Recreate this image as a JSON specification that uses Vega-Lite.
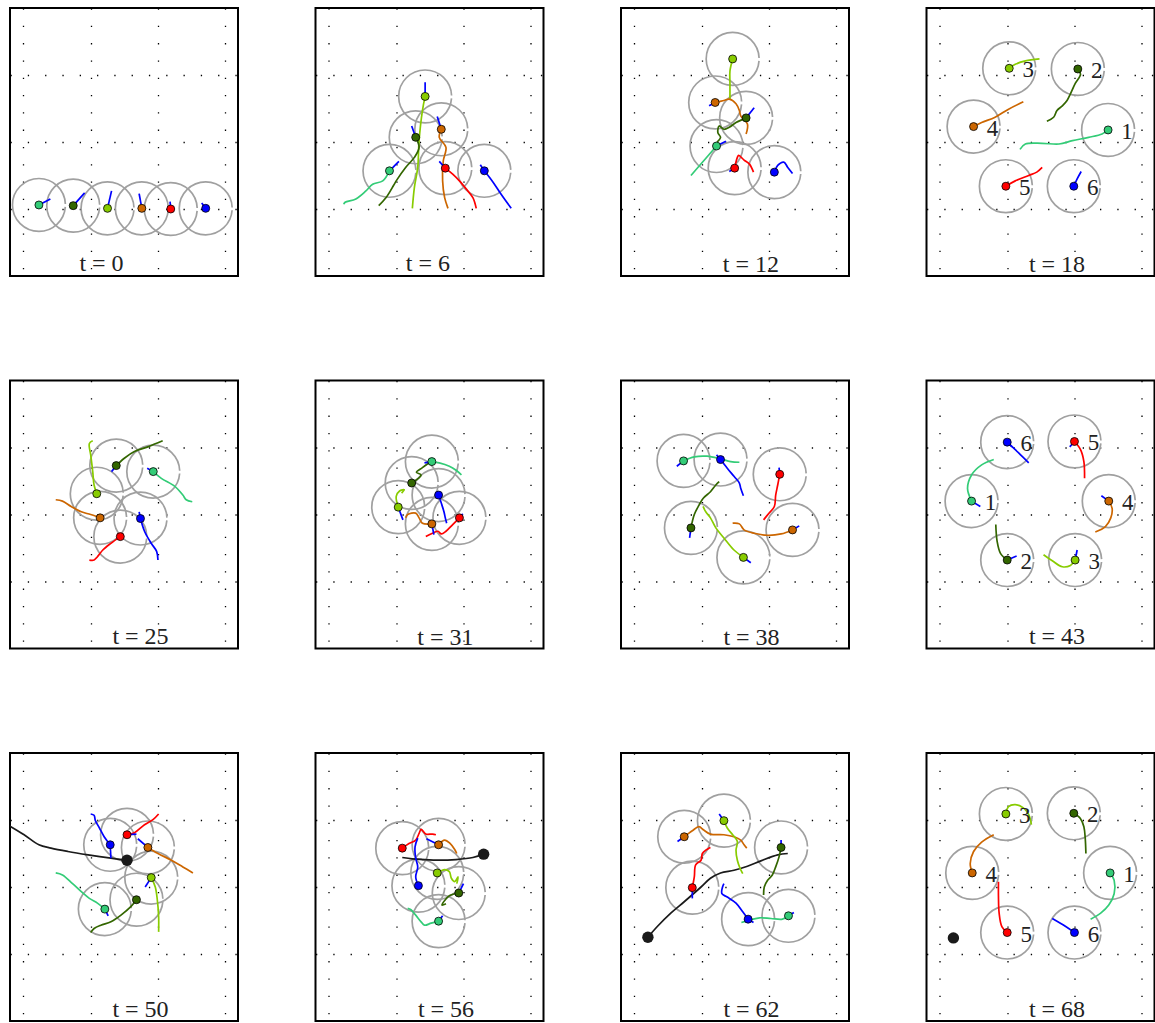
{
"$schema": "https://vega.github.io/schema/vega-lite/v6.json",
"padding": {"left": 8, "top": 6, "right": 0, "bottom": 0},
"background": "white",
"data": {"values": [
{"p":0,"k":"r","id":"1","x":0.23,"y":1.06,"hx":0.40,"hy":1.15},
{"p":0,"k":"r","id":"2","x":0.74,"y":1.05,"hx":0.91,"hy":1.24},
{"p":0,"k":"r","id":"3","x":1.25,"y":1.01,"hx":1.31,"hy":1.27},
{"p":0,"k":"r","id":"4","x":1.76,"y":1.01,"hx":1.72,"hy":1.23},
{"p":0,"k":"r","id":"5","x":2.19,"y":1.00,"hx":2.18,"hy":1.11},
{"p":0,"k":"r","id":"6","x":2.71,"y":1.01,"hx":2.65,"hy":1.09},
{"p":0,"k":"ttl","x":1.16,"y":0.18,"txt":"t = 0"},

{"p":6,"k":"r","id":"1","x":0.90,"y":1.57,"hx":1.04,"hy":1.71},
{"p":6,"k":"r","id":"2","x":1.29,"y":2.07,"hx":1.23,"hy":2.24},
{"p":6,"k":"r","id":"3","x":1.43,"y":2.68,"hx":1.43,"hy":2.89},
{"p":6,"k":"r","id":"4","x":1.67,"y":2.19,"hx":1.61,"hy":2.38},
{"p":6,"k":"r","id":"5","x":1.73,"y":1.61,"hx":1.64,"hy":1.71},
{"p":6,"k":"r","id":"6","x":2.31,"y":1.57,"hx":2.25,"hy":1.66},
{"p":6,"k":"t","id":"3","xs":[1.43,1.39,1.34,1.32,1.27,1.24],"ys":[2.68,2.47,2.02,1.62,1.32,1.01],"os":[0,1,2,3,4,5]},
{"p":6,"k":"t","id":"4","xs":[1.67,1.64,1.74,1.70,1.69,1.72,1.77],"ys":[2.19,2.07,1.92,1.72,1.42,1.17,1.01],"os":[0,1,2,3,4,5,6]},
{"p":6,"k":"t","id":"2","xs":[1.29,1.34,1.27,1.14,1.00,0.96,0.85,0.74],"ys":[2.07,1.92,1.77,1.62,1.42,1.35,1.17,1.05],"os":[0,1,2,3,4,5,6,7]},
{"p":6,"k":"t","id":"1","xs":[0.90,0.80,0.65,0.55,0.40,0.24,0.22],"ys":[1.57,1.42,1.37,1.27,1.15,1.10,1.07],"os":[0,1,2,3,4,5,6]},
{"p":6,"k":"t","id":"5","xs":[1.73,1.84,1.94,2.04,2.14,2.19],"ys":[1.61,1.52,1.42,1.30,1.17,1.01],"os":[0,1,2,3,4,5]},
{"p":6,"k":"t","id":"6","xs":[2.31,2.44,2.56,2.71],"ys":[1.57,1.40,1.22,1.01],"os":[0,1,2,3]},
{"p":6,"k":"ttl","x":1.47,"y":0.18,"txt":"t = 6"},

{"p":12,"k":"r","id":"1","x":1.22,"y":1.94,"hx":1.36,"hy":2.01},
{"p":12,"k":"r","id":"2","x":1.66,"y":2.36,"hx":1.78,"hy":2.51},
{"p":12,"k":"r","id":"3","x":1.46,"y":3.24},
{"p":12,"k":"r","id":"4","x":1.20,"y":2.59,"hx":1.11,"hy":2.54},
{"p":12,"k":"r","id":"5","x":1.49,"y":1.61,"hx":1.41,"hy":1.56},
{"p":12,"k":"r","id":"6","x":2.08,"y":1.55},
{"p":12,"k":"t","id":"3","xs":[1.46,1.42,1.42,1.42],"ys":[3.24,3.06,2.87,2.64],"os":[0,1,2,3]},
{"p":12,"k":"t","id":"4","xs":[1.20,1.33,1.41,1.51,1.56,1.58,1.68,1.66],"ys":[2.59,2.62,2.64,2.57,2.47,2.39,2.27,2.12],"os":[0,1,2,3,4,5,6,7]},
{"p":12,"k":"t","id":"2","xs":[1.66,1.51,1.41,1.33,1.26,1.24,1.28,1.23],"ys":[2.36,2.29,2.22,2.19,2.24,2.14,2.07,2.00],"os":[0,1,2,3,4,5,6,7]},
{"p":12,"k":"t","id":"1","xs":[1.22,1.03,0.84],"ys":[1.94,1.72,1.50],"os":[0,1,2]},
{"p":12,"k":"t","id":"5","xs":[1.49,1.53,1.55,1.63,1.71,1.77],"ys":[1.61,1.77,1.80,1.73,1.67,1.55],"os":[0,1,2,3,4,5]},
{"p":12,"k":"t","id":"6","xs":[2.08,2.13,2.22,2.28,2.35],"ys":[1.55,1.65,1.70,1.62,1.53],"os":[0,1,2,3,4]},
{"p":12,"k":"ttl","x":1.73,"y":0.16,"txt":"t = 12"},

{"p":18,"k":"r","id":"1","x":2.50,"y":2.18,"lab":"1"},
{"p":18,"k":"r","id":"2","x":2.05,"y":3.09,"lab":"2"},
{"p":18,"k":"r","id":"3","x":1.03,"y":3.10,"lab":"3"},
{"p":18,"k":"r","id":"4","x":0.50,"y":2.23,"lab":"4"},
{"p":18,"k":"r","id":"5","x":0.98,"y":1.34,"lab":"5"},
{"p":18,"k":"r","id":"6","x":1.99,"y":1.34,"lab":"6"},
{"p":18,"k":"t","id":"3","xs":[1.03,1.12,1.27,1.48],"ys":[3.10,3.16,3.21,3.24],"os":[0,1,2,3]},
{"p":18,"k":"t","id":"2","xs":[2.05,2.09,2.01,1.94,1.89,1.82,1.74,1.69,1.59],"ys":[3.09,3.01,2.87,2.72,2.62,2.54,2.47,2.37,2.31],"os":[0,1,2,3,4,5,6,7,8]},
{"p":18,"k":"t","id":"4","xs":[0.50,0.62,0.82,1.02,1.24],"ys":[2.23,2.29,2.37,2.49,2.60],"os":[0,1,2,3,4]},
{"p":18,"k":"t","id":"1","xs":[2.50,2.41,2.21,1.97,1.77,1.52,1.27,1.19],"ys":[2.18,2.12,2.07,2.02,1.97,1.98,1.97,1.89],"os":[0,1,2,3,4,5,6,7]},
{"p":18,"k":"t","id":"5","xs":[0.98,1.12,1.32,1.44,1.52],"ys":[1.34,1.42,1.50,1.55,1.62],"os":[0,1,2,3,4]},
{"p":18,"k":"t","id":"6","xs":[1.99,2.04,2.10],"ys":[1.34,1.45,1.56],"os":[0,1,2]},
{"p":18,"k":"ttl","x":1.74,"y":0.16,"txt":"t = 18"},

{"p":25,"k":"r","id":"1","x":1.93,"y":2.64,"hx":1.84,"hy":2.69},
{"p":25,"k":"r","id":"2","x":1.38,"y":2.73,"hx":1.31,"hy":2.64},
{"p":25,"k":"r","id":"3","x":1.09,"y":2.31},
{"p":25,"k":"r","id":"4","x":1.14,"y":1.95,"hx":1.19,"hy":1.99},
{"p":25,"k":"r","id":"5","x":1.44,"y":1.67},
{"p":25,"k":"r","id":"6","x":1.74,"y":1.94,"hx":1.72,"hy":2.04},
{"p":25,"k":"t","id":"2","xs":[1.38,1.50,1.65,1.85,2.07],"ys":[2.73,2.84,2.94,3.01,3.10],"os":[0,1,2,3,4]},
{"p":25,"k":"t","id":"1","xs":[1.93,2.05,2.25,2.37,2.42,2.51],"ys":[2.64,2.54,2.42,2.29,2.22,2.19],"os":[0,1,2,3,4,5]},
{"p":25,"k":"t","id":"3","xs":[1.09,1.05,1.03,1.00,0.98,1.03],"ys":[2.31,2.44,2.64,2.89,3.06,3.10],"os":[0,1,2,3,4,5]},
{"p":25,"k":"t","id":"4","xs":[1.14,1.00,0.86,0.71,0.58,0.48],"ys":[1.95,2.00,2.04,2.12,2.20,2.22],"os":[0,1,2,3,4,5]},
{"p":25,"k":"t","id":"6","xs":[1.74,1.80,1.90,1.98,2.00],"ys":[1.94,1.75,1.57,1.45,1.32],"os":[0,1,2,3,4]},
{"p":25,"k":"t","id":"5","xs":[1.44,1.30,1.18,1.10,1.05,0.98],"ys":[1.67,1.57,1.47,1.37,1.32,1.32],"os":[0,1,2,3,4,5]},
{"p":25,"k":"ttl","x":1.74,"y":0.17,"txt":"t = 25"},

{"p":31,"k":"r","id":"1","x":1.53,"y":2.79,"hx":1.42,"hy":2.77},
{"p":31,"k":"r","id":"2","x":1.23,"y":2.47},
{"p":31,"k":"r","id":"3","x":1.03,"y":2.11,"hx":1.10,"hy":1.92},
{"p":31,"k":"r","id":"4","x":1.53,"y":1.86,"hx":1.56,"hy":1.70},
{"p":31,"k":"r","id":"5","x":1.94,"y":1.95,"hx":1.99,"hy":2.01},
{"p":31,"k":"r","id":"6","x":1.63,"y":2.29},
{"p":31,"k":"t","id":"1","xs":[1.53,1.64,1.79,1.89,1.97],"ys":[2.79,2.77,2.72,2.66,2.59],"os":[0,1,2,3,4]},
{"p":31,"k":"t","id":"2","xs":[1.23,1.37,1.30,1.39,1.50],"ys":[2.47,2.59,2.63,2.70,2.78],"os":[0,1,2,3,4]},
{"p":31,"k":"t","id":"3","xs":[1.03,1.00,1.05,1.12,1.08],"ys":[2.11,2.27,2.35,2.37,2.32],"os":[0,1,2,3,4]},
{"p":31,"k":"t","id":"6","xs":[1.63,1.68,1.71,1.73,1.75],"ys":[2.29,2.14,2.04,1.95,1.87],"os":[0,1,2,3,4]},
{"p":31,"k":"t","id":"4","xs":[1.53,1.39,1.34,1.29,1.17,1.14],"ys":[1.86,1.87,1.95,2.02,2.00,1.95],"os":[0,1,2,3,4,5]},
{"p":31,"k":"t","id":"5","xs":[1.94,1.84,1.74,1.67,1.62,1.54,1.44],"ys":[1.95,1.85,1.75,1.71,1.75,1.72,1.67],"os":[0,1,2,3,4,5,6]},
{"p":31,"k":"ttl","x":1.73,"y":0.15,"txt":"t = 31"},

{"p":38,"k":"r","id":"1","x":0.73,"y":2.80,"hx":0.63,"hy":2.72},
{"p":38,"k":"r","id":"2","x":0.84,"y":1.80,"hx":0.82,"hy":1.65},
{"p":38,"k":"r","id":"3","x":1.62,"y":1.36,"hx":1.73,"hy":1.28},
{"p":38,"k":"r","id":"4","x":2.35,"y":1.77,"hx":2.45,"hy":1.83},
{"p":38,"k":"r","id":"5","x":2.16,"y":2.60,"hx":2.15,"hy":2.70},
{"p":38,"k":"r","id":"6","x":1.28,"y":2.82,"hx":1.22,"hy":2.89},
{"p":38,"k":"t","id":"1","xs":[0.73,0.89,1.08,1.28,1.43,1.56],"ys":[2.80,2.86,2.87,2.83,2.79,2.78],"os":[0,1,2,3,4,5]},
{"p":38,"k":"t","id":"6","xs":[1.28,1.38,1.48,1.56,1.58,1.62],"ys":[2.82,2.69,2.57,2.47,2.39,2.28],"os":[0,1,2,3,4,5]},
{"p":38,"k":"t","id":"5","xs":[2.16,2.13,2.10,2.08,2.00,1.92],"ys":[2.60,2.44,2.29,2.12,2.02,1.92],"os":[0,1,2,3,4,5]},
{"p":38,"k":"t","id":"2","xs":[0.84,0.89,0.96,1.02,1.13,1.21,1.26],"ys":[1.80,2.00,2.14,2.24,2.34,2.44,2.49],"os":[0,1,2,3,4,5,6]},
{"p":38,"k":"t","id":"3","xs":[1.62,1.48,1.33,1.21,1.13,1.06,1.02],"ys":[1.36,1.47,1.65,1.80,1.95,2.04,2.12],"os":[0,1,2,3,4,5,6]},
{"p":38,"k":"t","id":"4","xs":[2.35,2.18,1.98,1.78,1.63,1.56,1.46],"ys":[1.77,1.71,1.69,1.72,1.77,1.86,1.87],"os":[0,1,2,3,4,5,6]},
{"p":38,"k":"ttl","x":1.74,"y":0.15,"txt":"t = 38"},

{"p":43,"k":"r","id":"1","x":0.47,"y":2.20,"hx":0.60,"hy":2.12,"lab":"1"},
{"p":43,"k":"r","id":"2","x":1.00,"y":1.32,"hx":1.14,"hy":1.38,"lab":"2"},
{"p":43,"k":"r","id":"3","x":2.01,"y":1.32,"hx":2.04,"hy":1.47,"lab":"3"},
{"p":43,"k":"r","id":"4","x":2.51,"y":2.20,"hx":2.40,"hy":2.28,"lab":"4"},
{"p":43,"k":"r","id":"5","x":2.00,"y":3.09,"hx":1.93,"hy":3.01,"lab":"5"},
{"p":43,"k":"r","id":"6","x":1.00,"y":3.08,"hx":1.07,"hy":3.01,"lab":"6"},
{"p":43,"k":"t","id":"6","xs":[1.00,1.17,1.32],"ys":[3.08,2.92,2.77],"os":[0,1,2]},
{"p":43,"k":"t","id":"5","xs":[2.00,2.09,2.14,2.15],"ys":[3.09,2.97,2.79,2.54],"os":[0,1,2,3]},
{"p":43,"k":"t","id":"1","xs":[0.47,0.41,0.47,0.62,0.80],"ys":[2.20,2.39,2.59,2.74,2.82],"os":[0,1,2,3,4]},
{"p":43,"k":"t","id":"4","xs":[2.51,2.56,2.54,2.46,2.31],"ys":[2.20,2.09,1.95,1.82,1.74],"os":[0,1,2,3,4]},
{"p":43,"k":"t","id":"2","xs":[1.00,0.90,0.85,0.83],"ys":[1.32,1.42,1.60,1.85],"os":[0,1,2,3]},
{"p":43,"k":"t","id":"3","xs":[2.01,1.94,1.82,1.67,1.54],"ys":[1.32,1.24,1.22,1.31,1.40],"os":[0,1,2,3,4]},
{"p":43,"k":"ttl","x":1.74,"y":0.17,"txt":"t = 43"},

{"p":50,"k":"r","id":"1","x":1.21,"y":1.67,"hx":1.26,"hy":1.57},
{"p":50,"k":"r","id":"2","x":1.68,"y":1.81},
{"p":50,"k":"r","id":"3","x":1.90,"y":2.14,"hx":1.81,"hy":2.00},
{"p":50,"k":"r","id":"4","x":1.85,"y":2.59,"hx":1.70,"hy":2.72},
{"p":50,"k":"r","id":"5","x":1.54,"y":2.78,"hx":1.68,"hy":2.79},
{"p":50,"k":"r","id":"6","x":1.29,"y":2.63,"hx":1.30,"hy":2.43},
{"p":50,"k":"b","x":1.54,"y":2.40},
{"p":50,"k":"t","id":"b","xs":[1.54,1.30,0.96,0.66,0.41,0.23,0.01,-0.22],"ys":[2.40,2.43,2.48,2.53,2.58,2.63,2.78,2.92],"os":[0,1,2,3,4,5,6,7]},
{"p":50,"k":"t","id":"6","xs":[1.29,1.20,1.13,1.07,1.05,1.00],"ys":[2.63,2.75,2.88,2.99,3.07,3.09],"os":[0,1,2,3,4,5]},
{"p":50,"k":"t","id":"5","xs":[1.54,1.65,1.80,1.93,2.01],"ys":[2.78,2.81,2.93,3.01,3.09],"os":[0,1,2,3,4]},
{"p":50,"k":"t","id":"4","xs":[1.85,2.00,2.20,2.37,2.52],"ys":[2.59,2.50,2.40,2.30,2.21],"os":[0,1,2,3,4]},
{"p":50,"k":"t","id":"3","xs":[1.90,1.96,1.99,2.01,2.01],"ys":[2.14,2.00,1.81,1.56,1.33],"os":[0,1,2,3,4]},
{"p":50,"k":"t","id":"2","xs":[1.68,1.60,1.45,1.30,1.15,1.05,1.00],"ys":[1.81,1.71,1.58,1.48,1.43,1.38,1.32],"os":[0,1,2,3,4,5,6]},
{"p":50,"k":"t","id":"1","xs":[1.21,1.10,0.98,0.86,0.73,0.58,0.48],"ys":[1.67,1.76,1.83,1.93,2.05,2.18,2.21],"os":[0,1,2,3,4,5,6]},
{"p":50,"k":"ttl","x":1.74,"y":0.16,"txt":"t = 50"},

{"p":56,"k":"r","id":"1","x":1.63,"y":1.49,"hx":1.69,"hy":1.57},
{"p":56,"k":"r","id":"2","x":1.93,"y":1.91,"hx":2.00,"hy":2.05},
{"p":56,"k":"r","id":"3","x":1.61,"y":2.21},
{"p":56,"k":"r","id":"4","x":1.63,"y":2.63,"hx":1.45,"hy":2.72},
{"p":56,"k":"r","id":"5","x":1.09,"y":2.58,"hx":1.05,"hy":2.54},
{"p":56,"k":"r","id":"6","x":1.33,"y":2.02},
{"p":56,"k":"b","x":2.30,"y":2.49},
{"p":56,"k":"t","id":"b","xs":[2.30,2.14,1.89,1.64,1.39,1.24,1.09],"ys":[2.49,2.44,2.41,2.40,2.41,2.42,2.44],"os":[0,1,2,3,4,5,6]},
{"p":56,"k":"t","id":"5","xs":[1.09,1.19,1.29,1.34,1.37,1.44,1.54,1.59],"ys":[2.58,2.65,2.70,2.80,2.86,2.79,2.79,2.78],"os":[0,1,2,3,4,5,6,7]},
{"p":56,"k":"t","id":"4","xs":[1.63,1.72,1.80,1.87,1.90],"ys":[2.63,2.70,2.65,2.56,2.50],"os":[0,1,2,3,4]},
{"p":56,"k":"t","id":"3","xs":[1.61,1.72,1.79,1.82,1.87,1.92,1.90],"ys":[2.21,2.26,2.23,2.13,2.08,2.15,2.05],"os":[0,1,2,3,4,5,6]},
{"p":56,"k":"t","id":"6","xs":[1.33,1.29,1.32,1.29,1.28,1.32],"ys":[2.02,2.15,2.30,2.43,2.60,2.73],"os":[0,1,2,3,4,5]},
{"p":56,"k":"t","id":"2","xs":[1.93,1.79,1.73,1.68,1.74],"ys":[1.91,1.87,1.81,1.73,1.75],"os":[0,1,2,3,4]},
{"p":56,"k":"t","id":"1","xs":[1.63,1.52,1.42,1.37,1.29,1.22,1.17],"ys":[1.49,1.46,1.43,1.48,1.58,1.66,1.68],"os":[0,1,2,3,4,5,6]},
{"p":56,"k":"ttl","x":1.74,"y":0.16,"txt":"t = 56"},

{"p":62,"k":"r","id":"1","x":2.29,"y":1.57,"hx":2.37,"hy":1.62},
{"p":62,"k":"r","id":"2","x":2.18,"y":2.59,"hx":2.18,"hy":2.70},
{"p":62,"k":"r","id":"3","x":1.33,"y":2.99,"hx":1.26,"hy":3.09},
{"p":62,"k":"r","id":"4","x":0.74,"y":2.75,"hx":0.64,"hy":2.68},
{"p":62,"k":"r","id":"5","x":0.86,"y":1.99,"hx":0.86,"hy":1.83},
{"p":62,"k":"r","id":"6","x":1.69,"y":1.52,"hx":1.77,"hy":1.47},
{"p":62,"k":"b","x":0.20,"y":1.25},
{"p":62,"k":"t","id":"b","xs":[0.20,0.34,0.54,0.74,0.99,1.13,1.28,1.48,1.68,1.88,2.13,2.28],"ys":[1.25,1.41,1.61,1.78,2.00,2.13,2.21,2.25,2.31,2.39,2.48,2.50],"os":[0,1,2,3,4,5,6,7,8,9,10,11]},
{"p":62,"k":"t","id":"4","xs":[0.74,0.86,0.96,1.03,1.13,1.33,1.48,1.58,1.63,1.67],"ys":[2.75,2.84,2.90,2.85,2.79,2.78,2.75,2.70,2.63,2.58],"os":[0,1,2,3,4,5,6,7,8,9]},
{"p":62,"k":"t","id":"3","xs":[1.33,1.38,1.46,1.53,1.51,1.53,1.57,1.61],"ys":[2.99,2.88,2.78,2.68,2.55,2.40,2.28,2.20],"os":[0,1,2,3,4,5,6,7]},
{"p":62,"k":"t","id":"2","xs":[2.18,2.15,2.10,2.05,1.98,1.93,1.92],"ys":[2.59,2.45,2.30,2.18,2.10,2.00,1.88],"os":[0,1,2,3,4,5,6]},
{"p":62,"k":"t","id":"5","xs":[0.86,0.89,0.91,0.99,1.01,1.06,1.13],"ys":[1.99,2.15,2.33,2.40,2.50,2.55,2.59],"os":[0,1,2,3,4,5,6]},
{"p":62,"k":"t","id":"6","xs":[1.69,1.61,1.51,1.38,1.30,1.31,1.33],"ys":[1.52,1.63,1.76,1.85,1.90,2.00,2.05],"os":[0,1,2,3,4,5,6]},
{"p":62,"k":"t","id":"1","xs":[2.29,2.20,2.03,1.86,1.73,1.59],"ys":[1.57,1.52,1.53,1.54,1.51,1.47],"os":[0,1,2,3,4,5]},
{"p":62,"k":"ttl","x":1.74,"y":0.16,"txt":"t = 62"},

{"p":68,"k":"r","id":"1","x":2.53,"y":2.21,"lab":"1"},
{"p":68,"k":"r","id":"2","x":1.99,"y":3.10,"lab":"2"},
{"p":68,"k":"r","id":"3","x":0.98,"y":3.09,"lab":"3"},
{"p":68,"k":"r","id":"4","x":0.48,"y":2.21,"lab":"4"},
{"p":68,"k":"r","id":"5","x":1.00,"y":1.32,"lab":"5"},
{"p":68,"k":"r","id":"6","x":2.00,"y":1.32,"lab":"6"},
{"p":68,"k":"b","x":0.20,"y":1.24},
{"p":68,"k":"t","id":"3","xs":[0.98,1.02,1.12,1.24,1.32,1.36],"ys":[3.09,3.20,3.23,3.18,3.08,2.93],"os":[0,1,2,3,4,5]},
{"p":68,"k":"t","id":"2","xs":[1.99,2.09,2.14,2.16,2.17],"ys":[3.10,3.02,2.90,2.73,2.50],"os":[0,1,2,3,4]},
{"p":68,"k":"t","id":"4","xs":[0.48,0.45,0.50,0.62,0.80],"ys":[2.21,2.35,2.53,2.67,2.78],"os":[0,1,2,3,4]},
{"p":68,"k":"t","id":"1","xs":[2.53,2.59,2.59,2.51,2.39,2.24],"ys":[2.21,2.10,1.90,1.73,1.61,1.52],"os":[0,1,2,3,4,5]},
{"p":68,"k":"t","id":"5","xs":[1.00,0.92,0.88,0.87,0.87],"ys":[1.32,1.41,1.61,1.86,2.08],"os":[0,1,2,3,4]},
{"p":68,"k":"t","id":"6","xs":[2.00,1.87,1.67],"ys":[1.32,1.41,1.53],"os":[0,1,2]},
{"p":68,"k":"ttl","x":1.74,"y":0.16,"txt":"t = 68"}
]},
"facet": {"field": "p", "type": "ordinal", "sort": "ascending", "title": null, "header": {"labels": false, "title": null, "labelExpr": "''", "labelFontSize": 1, "labelPadding": 0}},
"columns": 4,
"spacing": {"column": 75.5, "row": 99.5},
"spec": {
  "width": 228,
  "height": 268,
  "encoding": {
    "x": {"field": "x", "type": "quantitative", "scale": {"domain": [-0.2, 3.19], "nice": false, "zero": false},
          "axis": {"values": [0, 1, 2, 3], "labels": false, "title": null, "domain": false, "ticks": false, "minExtent": 0, "maxExtent": 0, "offset": 0, "grid": true, "gridColor": "black", "gridWidth": 1.3, "gridDash": [1.3, 16]}},
    "y": {"field": "y", "type": "quantitative", "scale": {"domain": [0, 4], "nice": false, "zero": false},
          "axis": {"values": [1, 2, 3], "labels": false, "title": null, "domain": false, "ticks": false, "minExtent": 0, "maxExtent": 0, "offset": 0, "grid": true, "gridColor": "black", "gridWidth": 1.3, "gridDash": [1.3, 16]}}
  },
  "layer": [
    {"transform": [{"filter": "datum.k == 'r'"}],
     "mark": {"type": "point", "shape": "circle", "filled": false, "size": 2800, "stroke": "#a0a0a0", "strokeWidth": 1.7, "opacity": 1, "strokeDash": [162.2, 4], "strokeDashOffset": 164.2}},
    {"transform": [{"filter": "datum.k == 't'"}, {"flatten": ["xs", "ys", "os"], "as": ["tx", "ty", "o"]}],
     "mark": {"type": "line", "strokeWidth": 1.7, "interpolate": "catmull-rom", "clip": true},
     "encoding": {
       "x": {"field": "tx", "type": "quantitative"},
       "y": {"field": "ty", "type": "quantitative"},
       "order": {"field": "o", "type": "quantitative"},
       "detail": {"field": "id"},
       "color": {"field": "id", "type": "nominal", "legend": null,
                 "scale": {"domain": ["1", "2", "3", "4", "5", "6", "b"], "range": ["#33cc77", "#336600", "#88cc00", "#cc6600", "#ff0000", "#0000ff", "#1a1a1a"]}}
     }},
    {"transform": [{"filter": "datum.k == 'r' && isValid(datum.hx)"}],
     "mark": {"type": "rule", "color": "#0000ff", "strokeWidth": 1.7},
     "encoding": {"x2": {"field": "hx"}, "y2": {"field": "hy"}}},
    {"transform": [{"filter": "datum.k == 'r'"}],
     "mark": {"type": "point", "shape": "circle", "filled": true, "size": 64, "stroke": "black", "strokeWidth": 0.8, "opacity": 1},
     "encoding": {"color": {"field": "id", "type": "nominal", "legend": null,
                 "scale": {"domain": ["1", "2", "3", "4", "5", "6", "b"], "range": ["#33cc77", "#336600", "#88cc00", "#cc6600", "#ff0000", "#0000ff", "#1a1a1a"]}}}},
    {"transform": [{"filter": "datum.k == 'b'"}],
     "mark": {"type": "point", "shape": "circle", "filled": true, "size": 130, "color": "#1a1a1a", "opacity": 1}},
    {"transform": [{"filter": "datum.k == 'r' && isValid(datum.lab)"}],
     "mark": {"type": "text", "font": "Liberation Serif", "fontSize": 23, "dx": 19, "dy": 2, "align": "center", "baseline": "middle", "color": "#222222"},
     "encoding": {"text": {"field": "lab"}}},
    {"transform": [{"filter": "datum.k == 'ttl'"}],
     "mark": {"type": "text", "font": "Liberation Serif", "fontSize": 24, "align": "center", "baseline": "middle", "color": "#222222"},
     "encoding": {"text": {"field": "txt"}}}
  ]
},
"config": {"view": {"stroke": "black", "strokeWidth": 2}, "header": {"labels": false, "title": null, "labelExpr": "''", "labelFontSize": 1, "labelPadding": 0}, "headerFacet": {"labels": false, "labelPadding": 0}, "axis": {"minExtent": 0, "maxExtent": 0}}
}
